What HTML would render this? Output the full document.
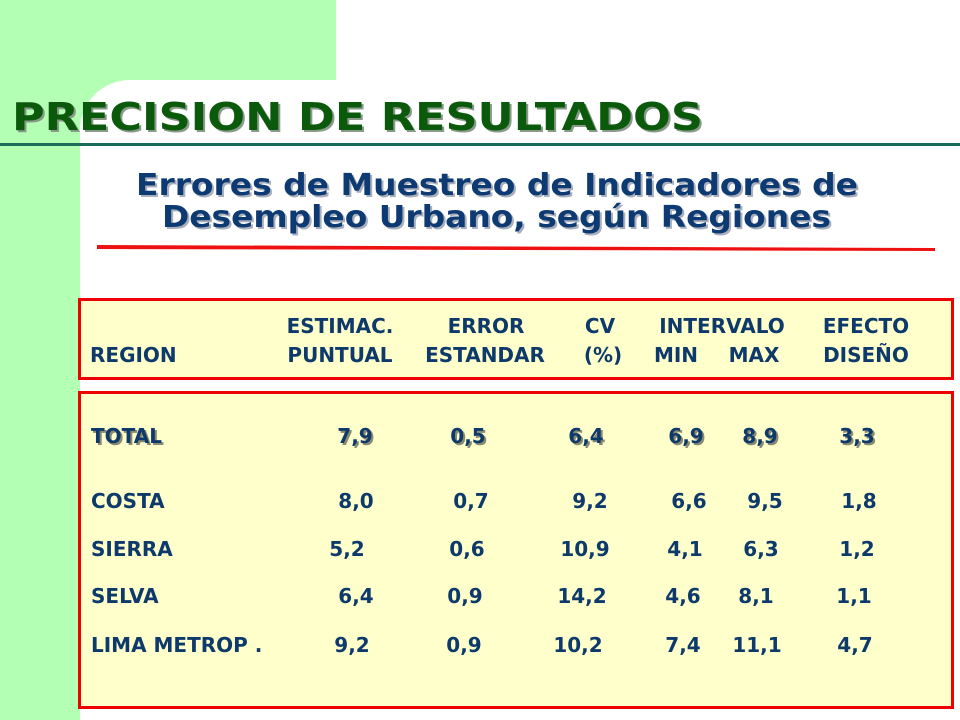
<!DOCTYPE html>
<html><head><meta charset="utf-8"><style>
body{margin:0;width:960px;height:720px;overflow:hidden;background:#fff}
svg{display:block}
text{font-family:"DejaVu Sans","Liberation Sans",sans-serif;font-weight:bold}
</style></head><body>
<svg width="960" height="720">
<rect x="0" y="0" width="336" height="80" fill="#b3ffb3"/>
<rect x="0" y="0" width="80" height="720" fill="#b3ffb3"/>
<path d="M80,80 L130,80 A50,50 0 0 0 80,130 Z" fill="#b3ffb3"/>
<text x="14" y="132" font-size="38" fill="#8a9a8a" textLength="691" lengthAdjust="spacingAndGlyphs">PRECISION DE RESULTADOS</text>
<text x="12" y="130" font-size="38" fill="#0b5a0b" textLength="691" lengthAdjust="spacingAndGlyphs">PRECISION DE RESULTADOS</text>
<rect x="0" y="143" width="960" height="3" fill="#1a6b5a"/>
<text x="138" y="197" font-size="30" fill="#aab0bb" textLength="722" lengthAdjust="spacingAndGlyphs">Errores de Muestreo de Indicadores de</text>
<text x="136" y="195" font-size="30" fill="#0d3a73" textLength="722" lengthAdjust="spacingAndGlyphs">Errores de Muestreo de Indicadores de</text>
<text x="164" y="229" font-size="30" fill="#aab0bb" textLength="669" lengthAdjust="spacingAndGlyphs">Desempleo Urbano, según Regiones</text>
<text x="162" y="227" font-size="30" fill="#0d3a73" textLength="669" lengthAdjust="spacingAndGlyphs">Desempleo Urbano, según Regiones</text>
<path d="M97,245 L935,248 L935,251 L97,249 Z" fill="#ee1111"/>
<rect x="79.5" y="299.5" width="873" height="79" fill="#ffffcc" stroke="#ee0000" stroke-width="3"/>
<rect x="79.5" y="392.5" width="873" height="315" fill="#ffffcc" stroke="#ee0000" stroke-width="3"/>
<g id="cells" fill="#0d3a6b" font-size="20" text-anchor="middle"></g>
</svg>
<script>
var header1=[["ESTIMAC.",340],["ERROR",486],["CV",600],["INTERVALO",722],["EFECTO",866]];
var header2=[["PUNTUAL",340],["ESTANDAR",485],["(%)",603],["MIN",676],["MAX",754],["DISEÑO",866]];
var regions=["TOTAL","COSTA","SIERRA","SELVA","LIMA METROP ."];
var rowY=[443,508,556,603,652];
var estim=["7,9","8,0","5,2","6,4","9,2"];
var err=["0,5","0,7","0,6","0,9","0,9"];
var cv=["6,4","9,2","10,9","14,2","10,2"];
var mn=["6,9","6,6","4,1","4,6","7,4"];
var mx=["8,9","9,5","6,3","8,1","11,1"];
var ef=["3,3","1,8","1,2","1,1","4,7"];
var colX=[[355,356,347,356,352],[468,471,467,465,464],[586,590,585,582,578],[686,689,685,683,683],[760,765,761,756,757],[857,859,857,854,855]];
var g=document.getElementById('cells');
function t(s,x,y,anchor,shadow,name){
  if(shadow){var sh=document.createElementNS('http://www.w3.org/2000/svg','text');
    sh.setAttribute('x',x+2);sh.setAttribute('y',y+2);sh.setAttribute('fill','#8a8a70');
    if(anchor)sh.setAttribute('text-anchor',anchor);sh.textContent=s;
    
    
    g.appendChild(sh);}
  var e=document.createElementNS('http://www.w3.org/2000/svg','text');
  e.setAttribute('x',x);e.setAttribute('y',y);if(anchor)e.setAttribute('text-anchor',anchor);
  e.textContent=s;
  
  
  g.appendChild(e);
}
header1.forEach(function(h){t(h[0],h[1],333,null,false,'header-label');});
t("REGION",90,362,'start',false,'header-label');
header2.forEach(function(h){t(h[0],h[1],362,null,false,'header-label');});
var cols=[estim,err,cv,mn,mx,ef];
regions.forEach(function(r,i){
  var sh=i===0;
  t(r,91,rowY[i],'start',sh,'region-label');
  cols.forEach(function(c,j){t(c[i],colX[j][i],rowY[i],null,sh,'value-cell');});
});
</script>
</body></html>
